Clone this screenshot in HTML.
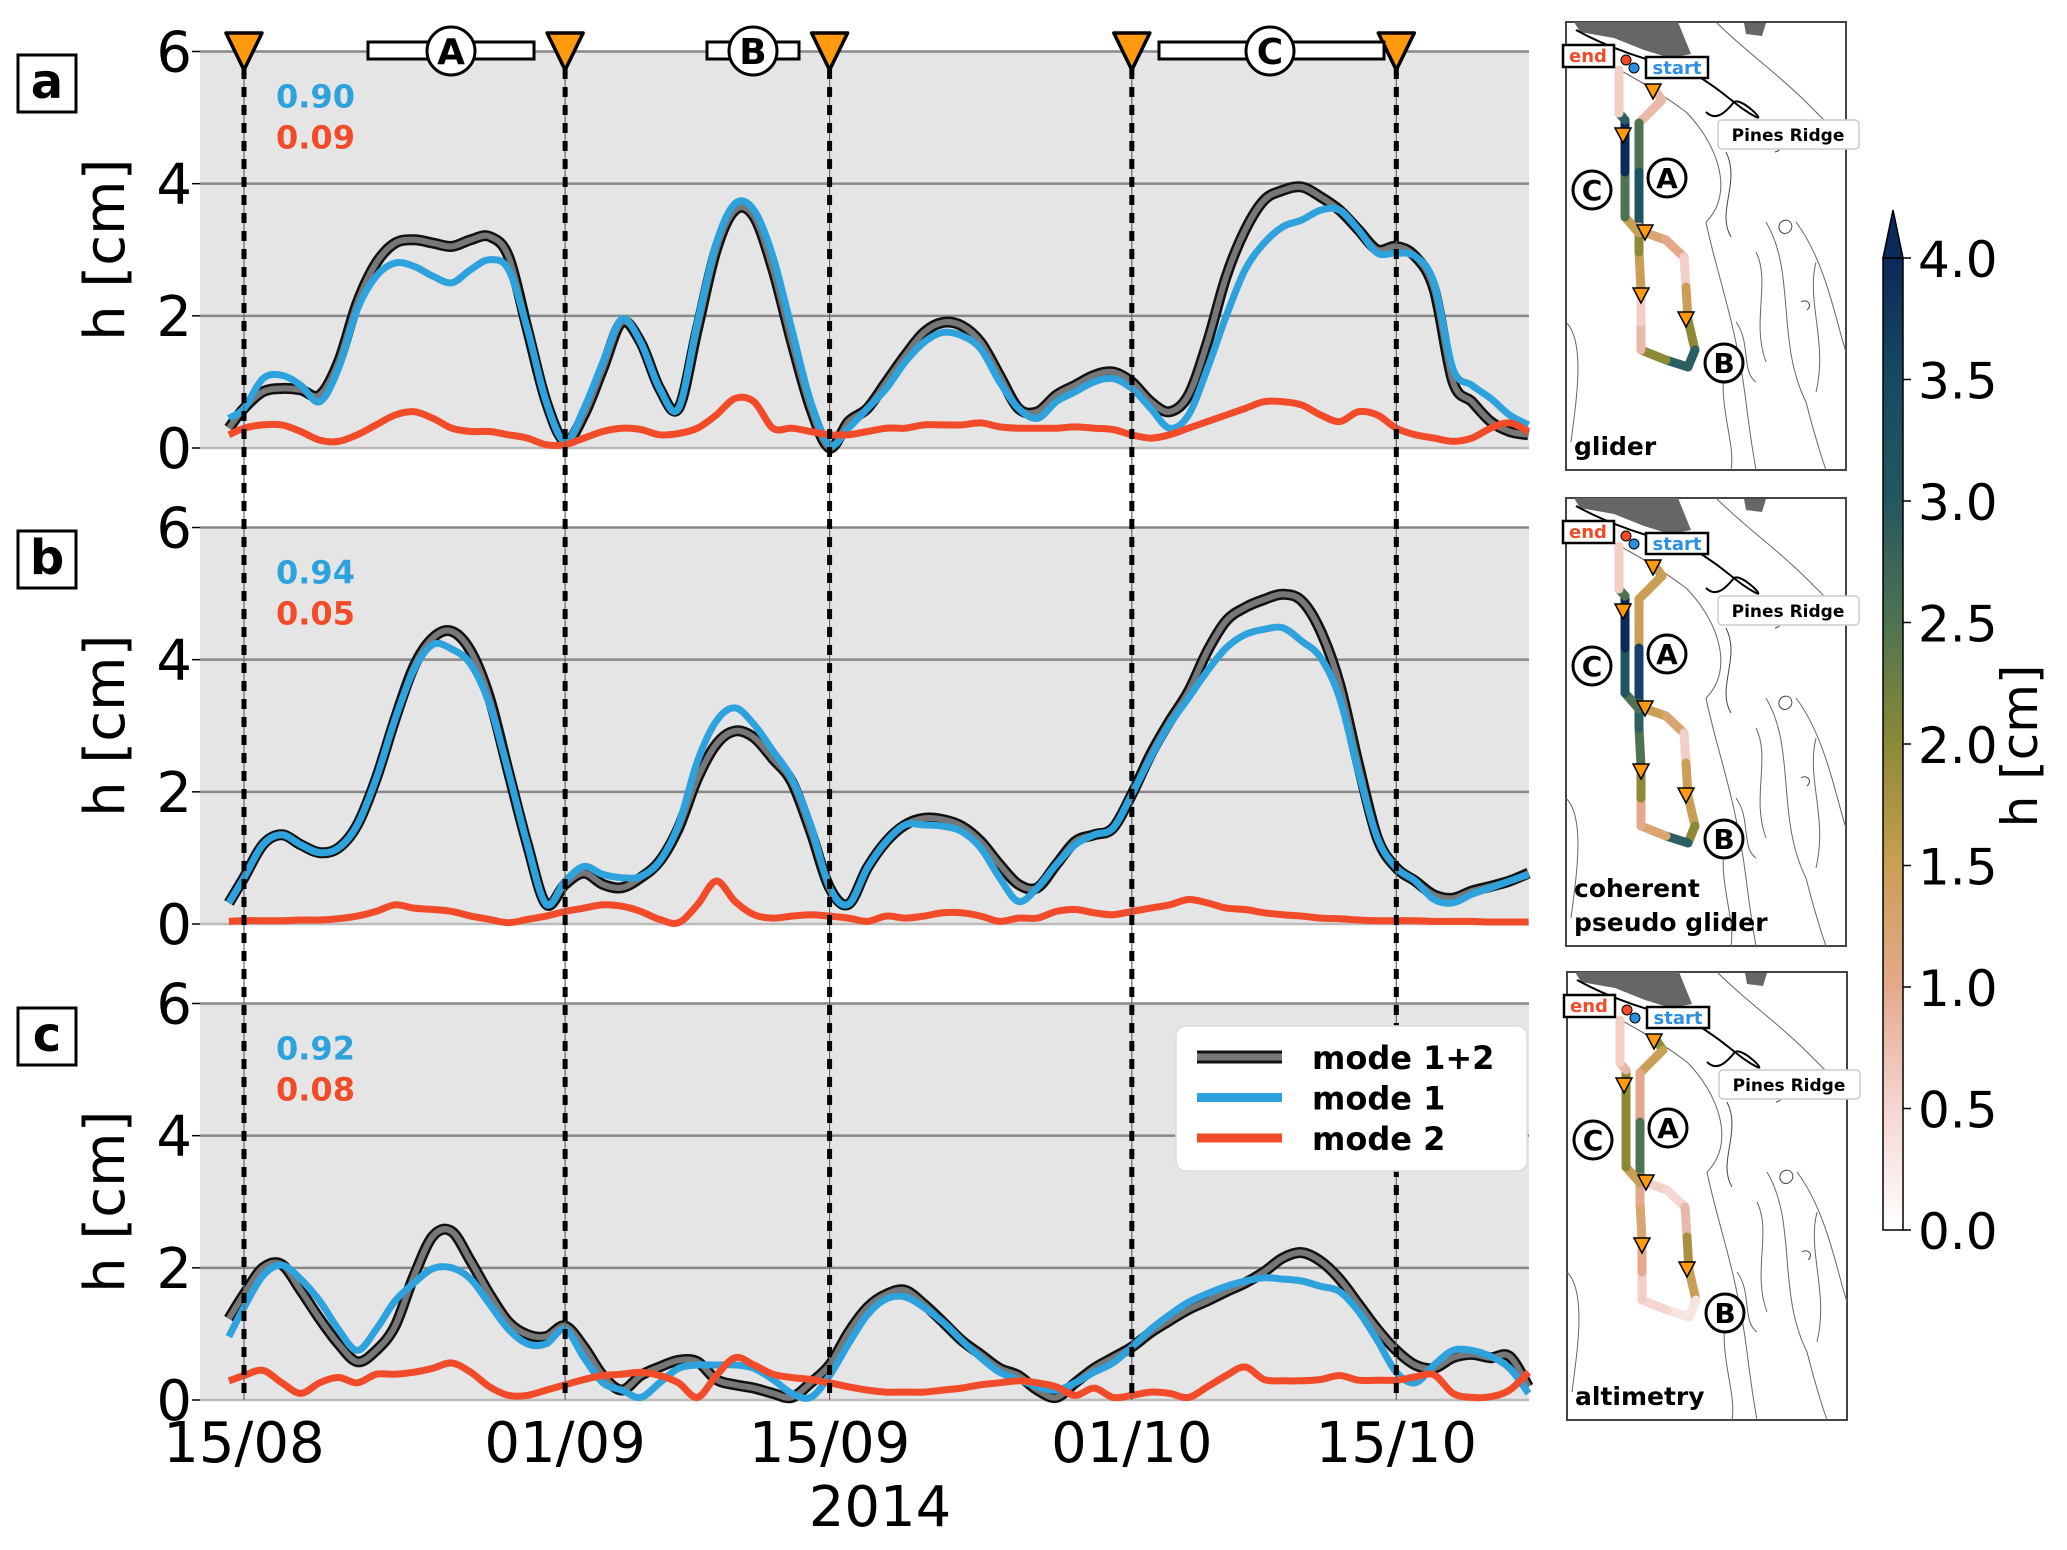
<!DOCTYPE html>
<html><head><meta charset="utf-8">
<style>
html,body{margin:0;padding:0;background:#fff;}
svg{display:block;font-family:"DejaVu Sans","Liberation Sans",sans-serif;}
</style></head>
<body>
<svg id="fig" width="2067" height="1550" viewBox="0 0 2067 1550" xmlns="http://www.w3.org/2000/svg">
<defs>
<linearGradient id="cmap" x1="0" y1="1" x2="0" y2="0">
<stop offset="0" stop-color="#ffffff"/>
<stop offset="0.125" stop-color="#f5d6d2"/>
<stop offset="0.25" stop-color="#e4a98c"/>
<stop offset="0.375" stop-color="#c99f55"/>
<stop offset="0.5" stop-color="#8c8a35"/>
<stop offset="0.625" stop-color="#4f7352"/>
<stop offset="0.75" stop-color="#25575f"/>
<stop offset="0.875" stop-color="#174a62"/>
<stop offset="1" stop-color="#0b2a58"/>
</linearGradient>
</defs>
<g id="panels"></g>
<g id="overlay"></g>
<g id="maps"></g>
<g id="cbar"></g>
</svg>
<script>
// ---- data (days since 15/08/2014) ----
const days = [-0.8,0,1,2,3,4,5,6,7,8,9,10,11,12,13,14,15,16,17,18,19,20,21,22,23,24,25,26,27,28,29,30,31,32,33,34,35,36,37,38,39,40,41,42,43,44,45,46,47,48,49,50,51,52,53,54,55,56,57,58,59,60,61,62,63,64,65,66,67,68];
const aTotal = [0.3,0.6,0.85,0.9,0.88,0.8,1.3,2.2,2.8,3.1,3.15,3.1,3.05,3.15,3.2,2.9,1.8,0.7,0.1,0.5,1.2,1.9,1.6,0.9,0.6,1.8,3.0,3.6,3.5,2.7,1.6,0.6,0.0,0.4,0.6,1.0,1.4,1.75,1.9,1.85,1.6,1.1,0.6,0.55,0.8,0.95,1.1,1.15,1.0,0.7,0.55,0.8,1.6,2.6,3.3,3.75,3.9,3.95,3.8,3.6,3.3,3.0,3.05,2.9,2.4,1.0,0.7,0.4,0.25,0.2];
const aMode1 = [0.45,0.6,1.05,1.1,0.95,0.7,1.2,2.1,2.6,2.8,2.75,2.6,2.5,2.7,2.85,2.7,1.8,0.7,0.1,0.6,1.3,1.95,1.6,0.9,0.6,1.9,3.1,3.7,3.6,2.9,1.8,0.7,0.05,0.3,0.6,0.9,1.3,1.6,1.75,1.7,1.5,1.0,0.6,0.45,0.7,0.85,1.0,1.05,0.9,0.6,0.3,0.5,1.2,2.0,2.7,3.1,3.35,3.45,3.6,3.6,3.3,2.95,2.95,2.9,2.5,1.2,0.95,0.75,0.5,0.35];
const aMode2 = [0.2,0.3,0.35,0.35,0.25,0.12,0.1,0.2,0.35,0.5,0.55,0.45,0.3,0.25,0.25,0.2,0.15,0.05,0.05,0.15,0.25,0.3,0.28,0.2,0.22,0.3,0.5,0.75,0.7,0.3,0.3,0.25,0.2,0.2,0.25,0.3,0.3,0.35,0.35,0.35,0.38,0.32,0.3,0.3,0.3,0.32,0.3,0.28,0.2,0.15,0.2,0.3,0.4,0.5,0.6,0.7,0.7,0.65,0.5,0.4,0.55,0.5,0.3,0.2,0.15,0.1,0.15,0.3,0.38,0.25];
const bTotal = [0.32,0.7,1.2,1.35,1.2,1.08,1.15,1.5,2.2,3.1,3.9,4.33,4.43,4.13,3.42,2.3,1.2,0.3,0.6,0.77,0.6,0.55,0.7,0.95,1.45,2.2,2.72,2.92,2.82,2.5,2.15,1.4,0.55,0.3,0.85,1.25,1.5,1.6,1.58,1.48,1.25,0.9,0.6,0.55,0.9,1.25,1.35,1.45,1.96,2.57,3.07,3.52,4.13,4.59,4.79,4.91,4.99,4.89,4.43,3.63,2.41,1.3,0.85,0.65,0.44,0.39,0.5,0.57,0.65,0.77];
const bMode1 = [0.32,0.7,1.2,1.35,1.2,1.08,1.15,1.5,2.2,3.1,3.85,4.23,4.16,3.93,3.32,2.3,1.2,0.3,0.65,0.87,0.75,0.7,0.72,0.95,1.5,2.46,3.07,3.27,3.02,2.62,2.2,1.5,0.55,0.3,0.85,1.25,1.5,1.5,1.48,1.4,1.15,0.7,0.34,0.55,0.9,1.2,1.35,1.45,1.96,2.52,3.02,3.42,3.83,4.18,4.38,4.46,4.48,4.28,4.03,3.42,2.3,1.3,0.85,0.65,0.37,0.32,0.45,0.55,0.65,0.75];
const bMode2 = [0.04,0.05,0.05,0.05,0.06,0.06,0.08,0.12,0.19,0.29,0.24,0.22,0.19,0.12,0.07,0.02,0.07,0.12,0.19,0.24,0.29,0.27,0.19,0.07,0.02,0.29,0.65,0.34,0.14,0.09,0.12,0.14,0.12,0.09,0.04,0.12,0.09,0.12,0.17,0.17,0.12,0.04,0.09,0.09,0.19,0.22,0.17,0.14,0.19,0.24,0.29,0.37,0.32,0.24,0.22,0.17,0.14,0.12,0.09,0.08,0.06,0.05,0.05,0.05,0.04,0.04,0.04,0.03,0.03,0.03];
const cTotal = [1.23,1.6,2.0,2.05,1.66,1.23,0.85,0.58,0.75,1.12,1.88,2.48,2.55,2.1,1.6,1.18,0.99,0.96,1.12,0.8,0.37,0.15,0.37,0.5,0.6,0.58,0.31,0.23,0.18,0.1,0.04,0.26,0.53,1.02,1.4,1.6,1.66,1.45,1.18,0.9,0.69,0.48,0.37,0.15,0.04,0.26,0.48,0.64,0.8,1.02,1.2,1.37,1.5,1.64,1.77,1.94,2.15,2.23,2.1,1.83,1.45,1.07,0.75,0.53,0.48,0.64,0.69,0.64,0.66,0.2];
const cMode1 = [0.96,1.4,1.88,2.04,1.83,1.5,1.07,0.75,1.07,1.5,1.77,1.99,2.0,1.83,1.45,1.07,0.85,0.85,1.07,0.64,0.26,0.15,0.04,0.26,0.48,0.53,0.53,0.53,0.48,0.31,0.1,0.04,0.37,0.85,1.29,1.53,1.56,1.4,1.18,0.9,0.64,0.42,0.31,0.2,0.15,0.26,0.42,0.56,0.8,1.07,1.29,1.48,1.61,1.72,1.8,1.85,1.83,1.8,1.72,1.64,1.34,0.9,0.42,0.26,0.53,0.75,0.75,0.66,0.48,0.1];
const cMode2 = [0.29,0.37,0.45,0.26,0.1,0.26,0.34,0.26,0.39,0.39,0.42,0.48,0.56,0.42,0.2,0.07,0.07,0.15,0.23,0.31,0.37,0.39,0.42,0.37,0.26,0.04,0.37,0.64,0.53,0.39,0.34,0.31,0.26,0.2,0.15,0.12,0.12,0.12,0.15,0.18,0.23,0.26,0.29,0.26,0.2,0.07,0.18,0.04,0.07,0.12,0.1,0.04,0.2,0.37,0.5,0.31,0.29,0.29,0.31,0.37,0.3,0.3,0.3,0.35,0.38,0.1,0.04,0.05,0.15,0.42];
const corrMode1 = ["0.90","0.94","0.92"];
const corrMode2 = ["0.09","0.05","0.08"];
const panelLetters = ["a","b","c"];
const yTicks = [0,2,4,6];
const xTickDays = [0,17,31,47,61];
const xTickLabels = ["15/08","01/09","15/09","01/10","15/10"];
const markerDays = [0,17,31,47,61];
const cbarTicks = [0.0,0.5,1.0,1.5,2.0,2.5,3.0,3.5,4.0];
const mapLabels = [["glider"],["coherent","pseudo glider"],["altimetry"]];

// ---- layout ----
const NS="http://www.w3.org/2000/svg";
const AX_L=200, AX_R=1529, X0=244, PXD=18.89;
const panelTops=[51.5,527.5,1003.5], PH=396.5;
function xs(d){return X0+d*PXD;}
function ys(p,h){return panelTops[p]+PH-(h/6)*PH;}
function mk(tag,attrs,parent){const e=document.createElementNS(NS,tag);for(const k in attrs)e.setAttribute(k,attrs[k]);parent.appendChild(e);return e;}
function smoothPath(pts){let d="M"+pts[0][0].toFixed(1)+","+pts[0][1].toFixed(1);
 for(let i=0;i<pts.length-1;i++){const p0=pts[Math.max(0,i-1)],p1=pts[i],p2=pts[i+1],p3=pts[Math.min(pts.length-1,i+2)];
  const c1=[p1[0]+(p2[0]-p0[0])/6,p1[1]+(p2[1]-p0[1])/6],c2=[p2[0]-(p3[0]-p1[0])/6,p2[1]-(p3[1]-p1[1])/6];
  d+=" C"+c1[0].toFixed(1)+","+c1[1].toFixed(1)+" "+c2[0].toFixed(1)+","+c2[1].toFixed(1)+" "+p2[0].toFixed(1)+","+p2[1].toFixed(1);}
 return d;}

const G=document.getElementById('panels');
const series=[[aTotal,aMode1,aMode2],[bTotal,bMode1,bMode2],[cTotal,cMode1,cMode2]];
for(let p=0;p<3;p++){
 const g=mk('g',{},G);
 
 
 const bg=mk('rect',{x:AX_L,y:panelTops[p],width:AX_R-AX_L,height:PH,fill:'#e5e5e5'},g);
 
 
 for(const t of yTicks){
  const gl=mk('line',{x1:AX_L,x2:AX_R,y1:ys(p,t),y2:ys(p,t),stroke:t===0?'#bbbbbb':'#888',"stroke-width":2.5},g);
  
  
  mk('line',{x1:AX_L-8,x2:AX_L,y1:ys(p,t),y2:ys(p,t),stroke:'#000',"stroke-width":1.5},g);
  const tl=mk('text',{x:AX_L-8,y:ys(p,t)+20,"text-anchor":"end","font-size":56,fill:'#000'},g);
  tl.textContent=String(t);
  
  
 }
 const yl=mk('text',{x:0,y:0,"text-anchor":"middle","font-size":56,fill:'#000',transform:'translate(124,'+(panelTops[p]+PH/2)+') rotate(-90)'},g);
 yl.textContent='h [cm]';
 
 
 const by=[55,531,1008][p];
 const lb=mk('rect',{x:18,y:by,width:58,height:57,fill:'#fff',stroke:'#000',"stroke-width":3},g);
 
 
 const lt=mk('text',{x:47,y:by+43,"text-anchor":"middle","font-size":48,"font-weight":"bold",fill:'#000'},g);
 lt.textContent=panelLetters[p];
 
 
 const c1=mk('text',{x:276,y:panelTops[p]+56,"font-size":32,"font-weight":"bold",fill:'#2ea2dc'},g);
 c1.textContent=corrMode1[p];
 
 
 const c2=mk('text',{x:276,y:panelTops[p]+97,"font-size":32,"font-weight":"bold",fill:'#f24b2a'},g);
 c2.textContent=corrMode2[p];
 
 
 const [tot,m1,m2]=series[p];
 const pt=arr=>days.map((d,i)=>[xs(d),ys(p,arr[i])]);
 const lo=mk('path',{d:smoothPath(pt(tot)),fill:'none',stroke:'#111',"stroke-width":11,"stroke-linejoin":"round"},g);
 
 
 const li=mk('path',{d:smoothPath(pt(tot)),fill:'none',stroke:'#777',"stroke-width":6,"stroke-linejoin":"round"},g);
 
 
 const l1=mk('path',{d:smoothPath(pt(m1)),fill:'none',stroke:'#2ea2dc',"stroke-width":7,"stroke-linejoin":"round"},g);
 
 
 const l2=mk('path',{d:smoothPath(pt(m2)),fill:'none',stroke:'#f24b2a',"stroke-width":7,"stroke-linejoin":"round"},g);
 
 
}
// x ticks
for(let i=0;i<xTickDays.length;i++){
 const t=mk('text',{x:xs(xTickDays[i]),y:1462,"text-anchor":"middle","font-size":56,fill:'#000'},G);
 t.textContent=xTickLabels[i];
 
 
}
const xt=mk('text',{x:880,y:1526,"text-anchor":"middle","font-size":56,fill:'#000'},G);
xt.textContent='2014';



// overlay: vertical dashed lines & markers & section bars
const O=document.getElementById('overlay');
for(const d of markerDays){
 const x=xs(d);
 mk('line',{x1:x,x2:x,y1:51,y2:1400,stroke:'#666',"stroke-width":1.2},O);
 const vl=mk('line',{x1:x,x2:x,y1:51,y2:1400,stroke:'#000',"stroke-width":5,"stroke-dasharray":"10,8"},O);
 
 
 const tr=mk('polygon',{points:(x-18)+',33 '+(x+18)+',33 '+x+',70',fill:'#ff9a0e',stroke:'#000',"stroke-width":3.5,"stroke-linejoin":"round"},O);
 
 
}
const sections=[["A",368,534,451],["B",707,799,753],["C",1159,1384,1270]];
for(const s of sections){
 const r=mk('rect',{x:s[1],y:42,width:s[2]-s[1],height:17,fill:'#fff',stroke:'#000',"stroke-width":3},O);
 
 
 mk('circle',{cx:s[3],cy:51,r:24,fill:'#fff',stroke:'#000',"stroke-width":3},O);
 const t=mk('text',{x:s[3],y:64,"text-anchor":"middle","font-size":36,"font-weight":"bold",fill:'#000'},O);
 t.textContent=s[0];
 
 
}
// legend
const lg=mk('g',{},O);


mk('rect',{x:1176,y:1026,width:351,height:145,rx:10,fill:'#fff',stroke:'#ddd',"stroke-width":1.5},lg);
const legItems=[["mode 1+2",'#777'],["mode 1",'#2ea2dc'],["mode 2",'#f24b2a']];
legItems.forEach((it,i)=>{
 const y=1057+i*40.5;
 if(i===0) mk('line',{x1:1197,x2:1282,y1:y,y2:y,stroke:'#111',"stroke-width":13},lg);
 mk('line',{x1:1197,x2:1282,y1:y,y2:y,stroke:it[1],"stroke-width":i===0?7:9},lg);
 const t=mk('text',{x:1312,y:y+12,"font-size":32,"font-weight":"bold",fill:'#000'},lg);
 t.textContent=it[0];
 
 
});

// maps
const M=document.getElementById('maps');
const mapBoxes=[[1566,22],[1566,498],[1567,972]];
const trackLocal=[[89,68],[96,78],[73,101],[73,150],[73,205],[80,211],[100,218],[118,235],[120,265],[122,298],[129,328],[122,345],[100,338],[75,328],[75,300],[75,268],[73,230],[73,211],[59,195],[59,150],[59,98],[53,91],[53,48]];
const trackColors=[
 ['#e8b8a8','#e8b8a8','#4f7352','#1e5560','#e8b8a8','#d8a470','#e4a98c','#f2d0c8','#c99f55','#8c8a35','#2c5f63','#2c5f63','#8c8a35','#e8b8a8','#f2d0c8','#c99f55','#8c8a35','#c99f55','#4f7352','#0b2a58','#2c5f63','#f3cfc6'],
 ['#c99f55','#c99f55','#c99f55','#17406a','#2c5f63','#c99f55','#d8a470','#f2d0c8','#c99f55','#c99f55','#8c8a35','#2c5f63','#d8a470','#e4a98c','#8c8a35','#4f7352','#2c5f63','#4f7352','#1e5560','#0b2a58','#4f7352','#f3cfc6'],
 ['#8c8a35','#c99f55','#e4a98c','#4f7352','#8c8a35','#f2d0c8','#f5d6d2','#e8b8a8','#a8903f','#c99f55','#f8e4e0','#f8e4e0','#f5d6d2','#f2d0c8','#e4a98c','#d8a470','#e4a98c','#c99f55','#8c8a35','#8c8a35','#e8b8a8','#f3cfc6']
];
mapBoxes.forEach((b,i)=>{
 const g=mk('g',{transform:'translate('+b[0]+','+b[1]+')'},M);
 
 
 mk('rect',{x:0,y:0,width:280,height:448,fill:'#fff',stroke:'#444',"stroke-width":2},g);
 mk('polygon',{points:'8,0 112,0 125,32 104,36 78,28 48,16 14,10',fill:'#666'},g);
 mk('polygon',{points:'178,1 200,1 196,14 180,12',fill:'#666'},g);
 mk('path',{d:'M10,8 C50,30 90,40 125,50 C160,70 170,85 190,95 C200,100 175,75 168,80 C160,90 150,100 140,90',fill:'none',stroke:'#000',"stroke-width":2},g);
 mk('path',{d:'M0,22 C40,40 80,60 120,90 C150,120 170,170 140,200 C150,250 170,300 180,380 C185,420 190,448 190,448',fill:'none',stroke:'#666',"stroke-width":1},g);
 mk('path',{d:'M150,0 C180,30 210,50 240,80 C260,100 270,110 280,120 M200,200 C230,250 210,320 240,380 C250,420 260,448 260,448 M230,200 C260,240 270,300 280,330',fill:'none',stroke:'#666',"stroke-width":1},g);
 mk('path',{d:'M0,300 C20,320 10,380 5,420 M160,340 C150,380 170,420 165,448 M190,230 C205,260 185,300 200,340 M250,240 C240,280 262,320 250,370 M170,300 C185,320 175,350 190,360',fill:'none',stroke:'#666',"stroke-width":1},g);
 mk('path',{d:'M160,130 C175,160 150,190 165,215 M215,200 c8,-6 15,4 8,10 c-6,5 -14,-3 -8,-10 M235,280 c6,-4 12,3 6,8 M205,120 c10,-4 14,8 4,10',fill:'none',stroke:'#444',"stroke-width":1},g);
 for(let k=0;k<trackLocal.length-1;k++){
  mk('line',{x1:trackLocal[k][0],y1:trackLocal[k][1],x2:trackLocal[k+1][0],y2:trackLocal[k+1][1],stroke:trackColors[i][k],"stroke-width":9,"stroke-linecap":"round"},g);
 }
 for(const t of [[87,70],[57,114],[79,211],[75,274],[120,298]]){
  mk('polygon',{points:(t[0]-8)+','+(t[1]-8)+' '+(t[0]+8)+','+(t[1]-8)+' '+t[0]+','+(t[1]+7),fill:'#ff9a0e',stroke:'#000',"stroke-width":1.5},g);
 }
 mk('rect',{x:-3,y:23,width:51,height:22,fill:'#fff',stroke:'#000',"stroke-width":2.5},g);
 const te=mk('text',{x:22,y:40,"text-anchor":"middle","font-size":18,"font-weight":"bold",fill:'#f24b2a'},g); te.textContent='end';
 mk('circle',{cx:60,cy:38,r:5,fill:'#f24b2a',stroke:'#000',"stroke-width":1},g);
 mk('circle',{cx:68,cy:46,r:5,fill:'#2e8fe0',stroke:'#000',"stroke-width":1},g);
 mk('rect',{x:80,y:35,width:62,height:21,fill:'#fff',stroke:'#000',"stroke-width":2.5},g);
 const ts=mk('text',{x:111,y:52,"text-anchor":"middle","font-size":18,"font-weight":"bold",fill:'#2e8fe0'},g); ts.textContent='start';
 mk('rect',{x:152,y:98,width:141,height:29,rx:4,fill:'#fff',stroke:'#ccc',"stroke-width":1.5},g);
 const tp=mk('text',{x:222,y:119,"text-anchor":"middle","font-size":17,"font-weight":"bold",fill:'#000'},g); tp.textContent='Pines Ridge';
 for(const c of [["A",101,156],["C",26,168],["B",158,341]]){
  mk('circle',{cx:c[1],cy:c[2],r:19,fill:'#fff',stroke:'#000',"stroke-width":3},g);
  const t=mk('text',{x:c[1],y:c[2]+10,"text-anchor":"middle","font-size":28,"font-weight":"bold",fill:'#000'},g); t.textContent=c[0];
 }
 const lines=mapLabels[i];
 lines.forEach((s,j)=>{
  const t=mk('text',{x:8,y:433-(lines.length-1-j)*34,"font-size":25,"font-weight":"bold",fill:'#000'},g);
  t.textContent=s;
  
  
 });
});

// colorbar
const C=document.getElementById('cbar');
const CB_X=1883,CB_W=20,CB_T=258,CB_B=1230;
const cb=mk('rect',{x:CB_X,y:CB_T,width:CB_W,height:CB_B-CB_T,fill:'url(#cmap)',stroke:'#000',"stroke-width":1.5},C);


mk('polygon',{points:CB_X+','+CB_T+' '+(CB_X+CB_W)+','+CB_T+' '+(CB_X+CB_W/2)+',210',fill:'#0b2a58',stroke:'#000',"stroke-width":1.5},C);
for(const t of cbarTicks){
 const y=CB_B-(t/4)*(CB_B-CB_T);
 mk('line',{x1:CB_X+CB_W,x2:CB_X+CB_W+8,y1:y,y2:y,stroke:'#000',"stroke-width":1.5},C);
 const tl=mk('text',{x:1918,y:y+19,"font-size":50,fill:'#000'},C);
 tl.textContent=t.toFixed(1);
 
 
}
const ct=mk('text',{x:0,y:0,"text-anchor":"middle","font-size":50,fill:'#000',transform:'translate(2037,746) rotate(-90)'},C);
ct.textContent='h [cm]';


</script>
</body></html>
